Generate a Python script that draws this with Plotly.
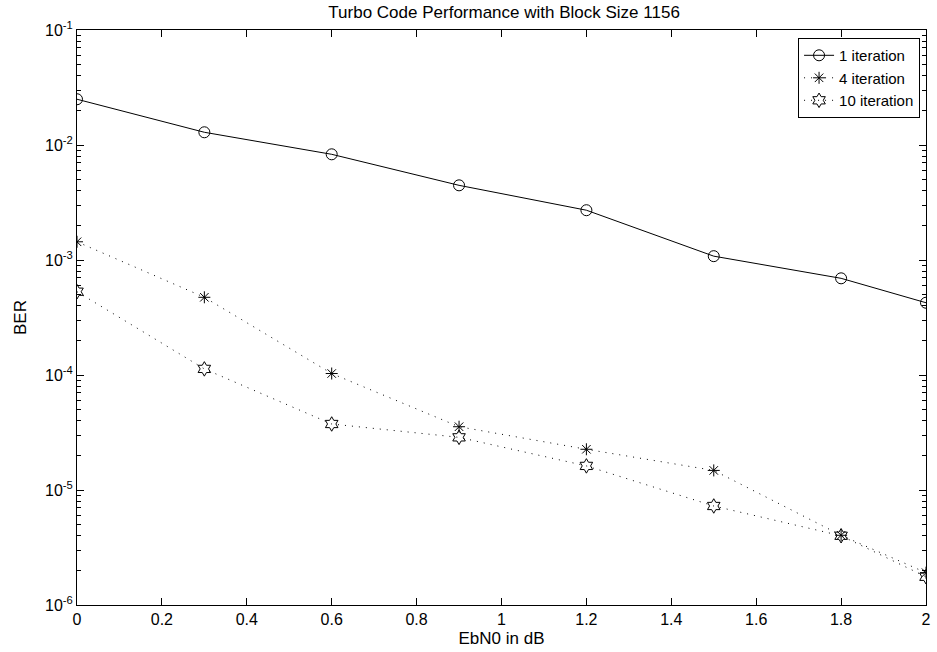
import plotly.graph_objects as go

ebn0 = [0, 0.3, 0.6, 0.9, 1.2, 1.5, 1.8, 2.0]
ber_1 = [0.0250, 0.0129, 0.00830, 0.00446, 0.00271, 0.00108, 0.000693, 0.000425]
ber_4 = [0.00144, 0.000474, 0.000103, 3.55e-5, 2.26e-5, 1.48e-5, 4.04e-6, 1.91e-6]
ber_10 = [0.000530, 0.000113, 3.75e-5, 2.87e-5, 1.62e-5, 7.26e-6, 4.0e-6, 1.76e-6]

x_ticks = [0, 0.2, 0.4, 0.6, 0.8, 1, 1.2, 1.4, 1.6, 1.8, 2]
x_ticktext = ["0", "0.2", "0.4", "0.6", "0.8", "1", "1.2", "1.4", "1.6", "1.8", "2"]
y_exps = [-6, -5, -4, -3, -2, -1]

FONT = "Liberation Sans, Arial, Helvetica, sans-serif"
DOT = "1px,6px"

fig = go.Figure()
fig.add_trace(go.Scatter(
    x=ebn0, y=ber_1, name="1 iteration", mode="lines+markers",
    line=dict(color="black", width=1),
    marker=dict(symbol="circle-open", size=11, color="black", line=dict(width=1))))
fig.add_trace(go.Scatter(
    x=ebn0, y=ber_4, name="4 iteration", mode="lines+markers",
    line=dict(color="black", width=1, dash=DOT),
    marker=dict(symbol="asterisk-open", size=10, color="black", line=dict(width=1))))
fig.add_trace(go.Scatter(
    x=ebn0, y=ber_10, name="10 iteration", mode="lines+markers",
    line=dict(color="black", width=1, dash=DOT),
    marker=dict(symbol="hexagram-open", size=11, color="black", line=dict(width=1))))

minor_vals = [m * 10.0 ** e for e in y_exps[:-1] for m in range(2, 10)]

fig.update_layout(
    width=937, height=652,
    margin=dict(l=77, r=6, t=30, b=47),
    paper_bgcolor="white", plot_bgcolor="white",
    font=dict(family=FONT, color="black", size=16),
    title=dict(text="Turbo Code Performance with Block Size 1156",
               x=0.538, xanchor="center",
               y=1 - 12 / 652, yanchor="middle",
               font=dict(size=17, family=FONT)),
    showlegend=True,
    legend=dict(x=0.993, y=0.986, xanchor="right", yanchor="top",
                bordercolor="black", borderwidth=1, bgcolor="white",
                font=dict(size=15, family=FONT),
                tracegroupgap=0, itemwidth=30),
    xaxis=dict(range=[0, 2], tickvals=x_ticks, ticktext=x_ticktext,
               ticks="inside", ticklen=7, tickcolor="black", tickwidth=1,
               showline=True, linecolor="black", linewidth=1, mirror="ticks",
               showgrid=False, zeroline=False,
               tickfont=dict(size=16, family=FONT),
               title=dict(text="EbN0 in dB", font=dict(size=17, family=FONT), standoff=4)),
    yaxis=dict(type="log", range=[-6, -1],
               tickvals=[10.0 ** e for e in y_exps],
               ticktext=["10<sup>%d</sup>" % e for e in y_exps],
               ticks="inside", ticklen=7, tickcolor="black", tickwidth=1,
               minor=dict(tickvals=minor_vals, ticks="inside", ticklen=4,
                          tickcolor="black", tickwidth=1, showgrid=False),
               showline=True, linecolor="black", linewidth=1, mirror="ticks",
               showgrid=False, zeroline=False,
               tickfont=dict(size=16, family=FONT),
               title=dict(text="BER", font=dict(size=17, family=FONT), standoff=14)),
)

fig.write_html("out.html")
